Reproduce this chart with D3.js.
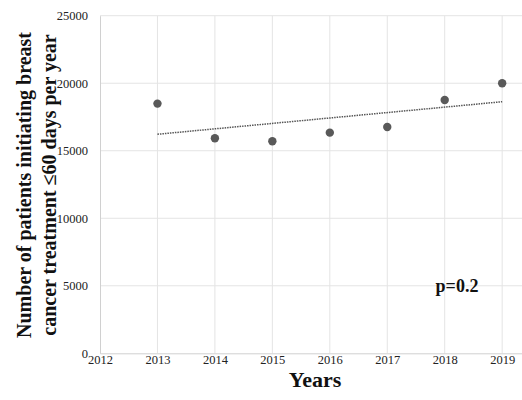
<!DOCTYPE html>
<html><head><meta charset="utf-8">
<script src="https://cdn.jsdelivr.net/npm/d3@7"></script>
<style>body{margin:0;background:#fff}svg{display:block}</style>
</head><body>
<svg id="c" width="522" height="400"></svg>
<script>
const years = [2013, 2014, 2015, 2016, 2017, 2018, 2019];
const patients = [18490, 15930, 15700, 16340, 16760, 18760, 20000];
const xTicks = [2012, 2013, 2014, 2015, 2016, 2017, 2018, 2019];
const yTicks = [0, 5000, 10000, 15000, 20000, 25000];
const pLabel = "p=0.2";
const yTitle = ["Number of patients initiating breast", "cancer treatment \u226460 days per year"];
const xTitle = "Years";

const svg = d3.select("#c");
const x = d3.scaleLinear().domain([2012, 2019.38]).range([100, 524]);
const y = d3.scaleLinear().domain([0, 25000]).range([353.3, 15.7]);
const serif = "'Liberation Serif','Times New Roman',serif";

// grid
svg.append("g").selectAll("line").data(xTicks.slice(1)).join("line")
  .attr("x1", d => x(d)).attr("x2", d => x(d)).attr("y1", y(25000)).attr("y2", y(0))
  .attr("stroke", "#e4e4e4").attr("stroke-width", 1);
svg.append("g").selectAll("line").data(yTicks.slice(1)).join("line")
  .attr("x1", x(2012)).attr("x2", 522).attr("y1", d => y(d)).attr("y2", d => y(d))
  .attr("stroke", "#e4e4e4").attr("stroke-width", 1);

// axes
const xAxis = svg.append("g").attr("transform", `translate(0,${y(0)})`)
  .call(d3.axisBottom(x).tickValues(xTicks).tickFormat(d3.format("d")).tickSize(0).tickPadding(2));
xAxis.select(".domain").attr("stroke", "#d0d0d0");
const yAxis = svg.append("g").attr("transform", `translate(${x(2012)},0)`)
  .call(d3.axisLeft(y).tickValues(yTicks).tickFormat(d3.format("d")).tickSize(0).tickPadding(12));
yAxis.select(".domain").attr("stroke", "#d0d0d0");
svg.selectAll(".tick text").attr("font-family", serif).attr("font-size", 12.5).attr("fill", "#222");

// trendline (least squares on the data)
const mx = d3.mean(years), my = d3.mean(patients);
const slope = d3.sum(years, (v, i) => (v - mx) * (patients[i] - my)) / d3.sum(years, v => (v - mx) ** 2);
const fit = v => my + slope * (v - mx);
const ends = [years[0], years[years.length - 1]];
svg.append("line")
  .attr("x1", x(ends[0])).attr("y1", y(fit(ends[0])))
  .attr("x2", x(ends[1])).attr("y2", y(fit(ends[1])))
  .attr("stroke", "#555").attr("stroke-width", 1.5).attr("stroke-dasharray", "1.5,1");

// points
svg.append("g").selectAll("circle").data(years).join("circle")
  .attr("cx", d => x(d)).attr("cy", (d, i) => y(patients[i])).attr("r", 4.2)
  .attr("fill", "#595959");

// p label
svg.append("text").attr("x", 457).attr("y", 292).attr("text-anchor", "middle")
  .attr("font-family", serif).attr("font-weight", "bold").attr("font-size", 18).attr("fill", "#111")
  .text(pLabel);

// titles
svg.append("text").attr("x", 315).attr("y", 387).attr("text-anchor", "middle")
  .attr("font-family", serif).attr("font-weight", "bold").attr("font-size", 22).attr("fill", "#111")
  .text(xTitle);
const yt = svg.append("text").attr("transform", "translate(31,185) rotate(-90)")
  .attr("text-anchor", "middle").attr("font-family", serif).attr("font-weight", "bold")
  .attr("font-size", 20).attr("fill", "#111");
yTitle.forEach((t, i) => yt.append("tspan").attr("x", 0).attr("dy", i === 0 ? 0 : 25).text(t));
</script>
</body></html>
